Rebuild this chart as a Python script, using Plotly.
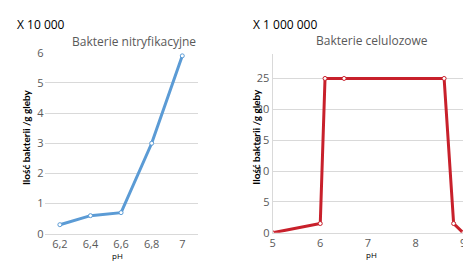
import plotly.graph_objects as go

# Left chart: nitrifying bacteria
ph_nitr = ["6,2", "6,4", "6,6", "6,8", "7"]
val_nitr = [0.3, 0.6, 0.7, 3.0, 5.9]
y_ticks_nitr = [0, 1, 2, 3, 4, 5, 6]

# Right chart: cellulose bacteria
ph_cel = [5.0, 6.0, 6.1, 6.5, 8.6, 8.8, 9.0]
val_cel = [0.0, 1.5, 25.0, 25.0, 25.0, 1.5, 0.0]
x_ticks_cel = [5, 6, 7, 8, 9]
y_ticks_cel = [0, 5, 10, 15, 20, 25]

W, H = 471, 267
OFF = 8  # page body margin offset

def px(x):
    return (x - OFF) / W

def py(y):
    return 1 - (y - OFF) / H

BLUE = "#5B9BD5"
RED = "#C8202B"
GRID = "#D9D9D9"
TICK = "#595959"
FONT = "Open Sans"

fig = go.Figure()
fig.add_trace(go.Scatter(
    x=ph_nitr, y=val_nitr, mode="lines+markers",
    line=dict(color=BLUE, width=3),
    marker=dict(size=4, color="white", line=dict(color=BLUE, width=1)),
    xaxis="x", yaxis="y", showlegend=False))
fig.add_trace(go.Scatter(
    x=ph_cel, y=val_cel, mode="lines+markers",
    line=dict(color=RED, width=3),
    marker=dict(size=4, color="white", line=dict(color=RED, width=1)),
    xaxis="x2", yaxis="y2", showlegend=False))

tickfont = dict(family=FONT, size=11, color=TICK)

fig.update_layout(
    width=W, height=H,
    margin=dict(l=0, r=0, t=0, b=0),
    paper_bgcolor="white", plot_bgcolor="white",
    font=dict(family=FONT),
    xaxis=dict(domain=[px(42), px(197)], type="category", range=[-0.5, 4.5],
               showgrid=False, showline=True, linecolor=GRID, linewidth=1,
               ticks="", tickfont=tickfont, anchor="y", fixedrange=True),
    yaxis=dict(domain=[py(238.7), py(47)], range=[0, 6], tickvals=y_ticks_nitr,
               showgrid=True, gridcolor=GRID, gridwidth=1, zeroline=False,
               showline=False, ticks="", ticklen=0, tickfont=tickfont,
               anchor="x", fixedrange=True),
    xaxis2=dict(domain=[px(273), px(466)], range=[5, 9], tickvals=x_ticks_cel,
                showgrid=False, showline=True, linecolor=GRID, linewidth=1,
                zeroline=False, ticks="", tickfont=tickfont, anchor="y2",
                fixedrange=True),
    yaxis2=dict(domain=[py(237.7), py(48)], range=[0, 29], tickvals=y_ticks_cel,
                showgrid=True, gridcolor=GRID, gridwidth=1, zeroline=False,
                showline=True, linecolor=GRID, linewidth=1,
                ticks="", tickfont=tickfont, anchor="x2", fixedrange=True),
)

ann = []

def add(text, x, y, size, color, bold=False, angle=0, xanchor="center", family=FONT):
    ann.append(dict(text=("<b>%s</b>" % text) if bold else text,
                    x=px(x), y=py(y), xref="paper", yref="paper",
                    showarrow=False, textangle=angle, xanchor=xanchor,
                    yanchor="middle",
                    font=dict(family=family, size=size, color=color)))

add("X 10 000", 12, 17, 12, "#000000", xanchor="left")
add("Bakterie nitryfikacyjne", 133, 35, 12, TICK)
add("Ilość bakterii /g gleby", 22.5, 136, 10, "#000000", bold=True, angle=-90, family="Lato")
add("pH", 116, 262, 8, "#000000")

add("X 1 000 000", 251, 17, 12, "#000000", xanchor="left")
add("Bakterie celulozowe", 374, 34, 12, TICK)
add("Ilość bakterii /g gleby", 256, 136, 10, "#000000", bold=True, angle=-90, family="Lato")
add("pH", 373, 261, 8, "#000000")

fig.update_layout(annotations=ann)
fig.write_html("out.html")
